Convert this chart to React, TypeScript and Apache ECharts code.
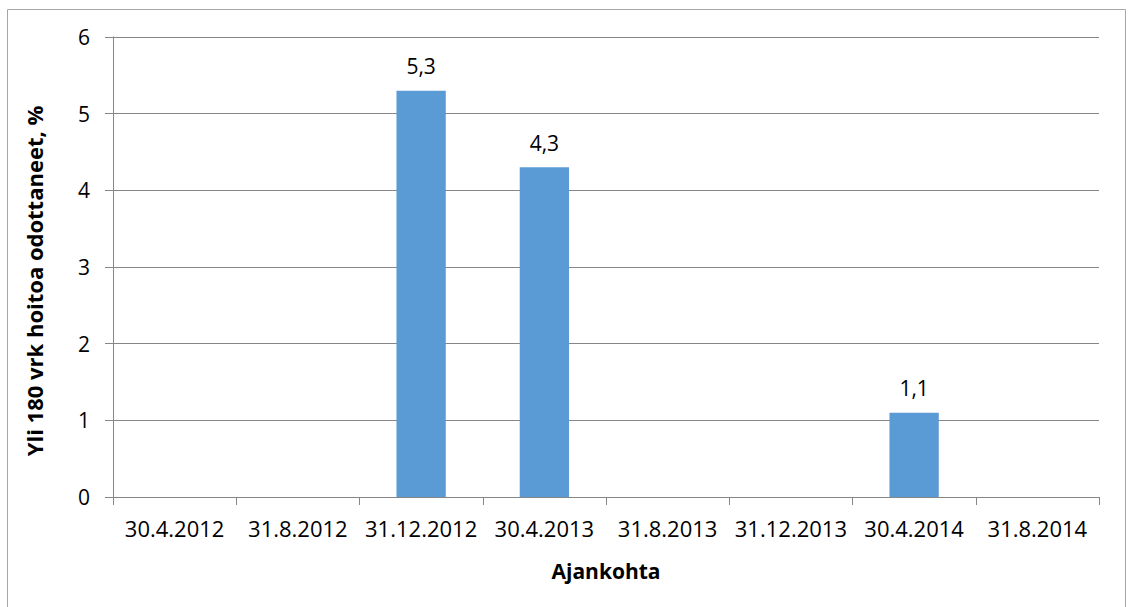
import React, { useEffect, useRef } from "react";
import * as echarts from "echarts";

const categories = ["30.4.2012", "31.8.2012", "31.12.2012", "30.4.2013", "31.8.2013", "31.12.2013", "30.4.2014", "31.8.2014"];
const values: (number | null)[] = [null, null, 5.3, 4.3, null, null, 1.1, null];
const yTicks = { min: 0, max: 6, interval: 1 };
const yTitle = "Yli 180 vrk hoitoa odottaneet, %";
const xTitle = "Ajankohta";

const FONT = "'Open Sans', sans-serif";

export default function App() {
  const ref = useRef<HTMLDivElement>(null);
  useEffect(() => {
    document.body.style.margin = "0";
    const chart = echarts.init(ref.current!, null, { renderer: "svg" });
    chart.setOption({
      animation: false,
      backgroundColor: "#ffffff",
      textStyle: { fontFamily: FONT },
      graphic: [
        {
          type: "rect",
          shape: { x: 7.5, y: 9.5, width: 1118, height: 620 },
          style: { fill: "none", stroke: "#a6a6a6", lineWidth: 1 },
          silent: true,
        },
        {
          type: "text",
          x: 34,
          y: 281,
          rotation: Math.PI / 2,
          style: {
            text: yTitle,
            fontFamily: FONT,
            fontSize: 22,
            fontWeight: "bold",
            fill: "#000",
            align: "center",
            verticalAlign: "middle",
          },
          silent: true,
        },
      ],
      grid: { left: 113, right: 29, top: 37, bottom: 110, containLabel: false },
      xAxis: {
        type: "category",
        data: categories,
        name: xTitle,
        nameLocation: "middle",
        nameGap: 63,
        nameTextStyle: { fontFamily: FONT, fontSize: 21, fontWeight: "bold", color: "#000" },
        axisLine: { lineStyle: { color: "#868686", width: 1 } },
        axisTick: { show: true, length: 8, alignWithLabel: false, lineStyle: { color: "#868686" } },
        axisLabel: { fontFamily: FONT, fontSize: 22, color: "#000", margin: 20, interval: 0 },
        splitLine: { show: false },
      },
      yAxis: {
        type: "value",
        min: yTicks.min,
        max: yTicks.max,
        interval: yTicks.interval,
        axisLine: { show: true, lineStyle: { color: "#868686", width: 1 } },
        axisTick: { show: true, length: 8, lineStyle: { color: "#868686" } },
        axisLabel: { fontFamily: FONT, fontSize: 21, color: "#000", margin: 23 },
        splitLine: { show: true, lineStyle: { color: "#868686", width: 1 } },
      },
      series: [
        {
          type: "bar",
          data: values,
          barWidth: "40%",
          itemStyle: { color: "#5b9bd5" },
          label: {
            show: true,
            position: "top",
            distance: 14,
            fontFamily: FONT,
            fontSize: 21,
            color: "#000",
            formatter: (p: any) => (p.value == null ? "" : String(p.value).replace(".", ",")),
          },
        },
      ],
    });
    return () => chart.dispose();
  }, []);
  return <div ref={ref} style={{ width: 1128, height: 607 }} />;
}
